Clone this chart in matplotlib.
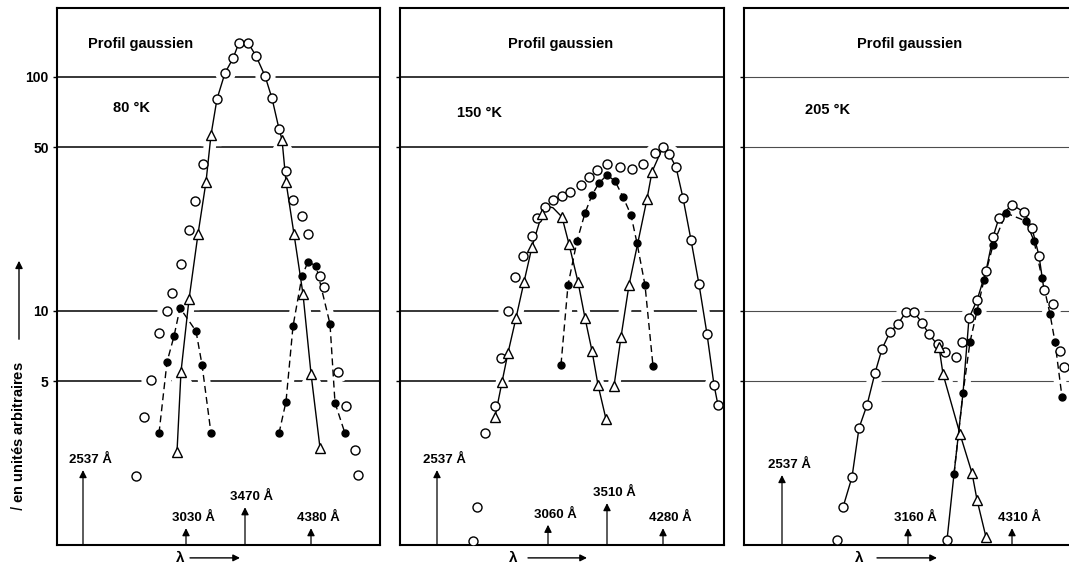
import matplotlib
matplotlib.use("Agg")
import matplotlib.pyplot as plt
from matplotlib.ticker import NullFormatter, NullLocator

FONT = ["Liberation Sans Narrow", "Liberation Sans", "DejaVu Sans"]
plt.rcParams["font.family"] = FONT

# x : position along lambda (arbitrary units, 0 = left frame of each panel)
# y : intensity I (arbitrary units, log scale)

# --- panel 1 : 80 K ---
P1_LINE_X = [120, 124, 132, 141, 149, 154, 160, 168, 176, 182, 191, 199, 208, 215, 222, 225, 229, 237, 246, 254, 263]
P1_LINE_Y = [2.5, 5.5, 11.2, 21.3, 35.6, 56.5, 80.5, 104, 120, 140, 140, 123, 101, 81, 60, 54, 35.6, 21.3, 11.8, 5.4, 2.6]
P1_TRI_X = [120, 124, 132, 141, 149, 154, 225, 229, 237, 246, 254, 263]
P1_TRI_Y = [2.5, 5.5, 11.2, 21.3, 35.6, 56.5, 54, 35.6, 21.3, 11.8, 5.4, 2.6]
P1_OPEN_X = [79, 87, 94, 102, 110, 115, 124, 132, 138, 146, 160, 168, 176, 182, 191, 199, 208,
             215, 222, 229, 236, 245, 251, 263, 267, 281, 289, 298, 301]
P1_OPEN_Y = [1.97, 3.52, 5.07, 8.05, 10, 11.9, 15.9, 22.2, 29.5, 42.5, 80.5, 104, 120, 140, 140, 123, 101,
             81, 60, 39.7, 29.8, 25.5, 21.3, 14.1, 12.7, 5.5, 3.93, 2.55, 2.0]
P1_FILL_A_X = [102, 110, 117, 123, 139, 145, 154]
P1_FILL_A_Y = [3.0, 6.05, 7.8, 10.3, 8.2, 5.9, 3.0]
P1_FILL_B_X = [222, 229, 236, 245, 251, 259, 273, 278, 288]
P1_FILL_B_Y = [3.0, 4.1, 8.6, 14.1, 16.2, 15.6, 8.8, 4.05, 3.0]

# --- panel 2 : 150 K ---
P2_LINE_A_X = [95, 102, 108, 116, 124, 132, 142, 147, 153, 162, 169, 178, 185, 192, 198, 206]
P2_LINE_A_Y = [3.52, 4.97, 6.62, 9.33, 13.3, 18.8, 26.0, 28.0, 27.6, 25.2, 19.3, 13.3, 9.33, 6.75, 4.83, 3.45]
P2_LINE_B_X = [214, 221, 229, 247, 252, 263, 269, 276, 283, 291, 299, 307, 314, 318]
P2_LINE_B_Y = [4.78, 7.74, 12.9, 30.1, 39.3, 50.2, 46.9, 41.2, 30.4, 20.1, 13.0, 7.97, 4.83, 3.96]
P2_TRI_X = [95, 102, 108, 116, 124, 132, 142, 162, 169, 178, 185, 192, 198, 206,
            214, 221, 229, 247, 252]
P2_TRI_Y = [3.52, 4.97, 6.62, 9.33, 13.3, 18.8, 26.0, 25.2, 19.3, 13.3, 9.33, 6.75, 4.83, 3.45,
            4.78, 7.74, 12.9, 30.1, 39.3]
P2_OPEN_X = [73, 77, 85, 95, 101, 108, 115, 123, 132, 137, 145, 153, 162, 170, 181, 189, 197, 207,
             220, 232, 243, 255, 263, 269, 276, 283, 291, 299, 307, 314, 318]
P2_OPEN_Y = [1.04, 1.45, 3.0, 3.93, 6.3, 10, 14.0, 17.2, 20.9, 25.0, 27.8, 29.8, 31.0, 32.3, 34.5, 37.4, 40.0, 42.5,
             41.2, 40.4, 42.5, 47.3, 50.2, 46.9, 41.2, 30.4, 20.1, 13.0, 7.97, 4.83, 3.96]
P2_FILL_X = [161, 168, 177, 185, 192, 199, 207, 215, 223, 231, 237, 245, 253]
P2_FILL_Y = [5.9, 12.9, 19.9, 26.2, 31.3, 35.2, 38.1, 35.9, 30.7, 25.7, 19.5, 12.9, 5.82]

# --- panel 3 : 205 K ---
P3_LINE_A_X = [99, 108, 115, 123, 131, 138, 146, 154, 162, 170, 178, 185, 195, 199, 216, 228, 233, 242]
P3_LINE_A_Y = [1.45, 1.95, 3.16, 3.96, 5.43, 6.88, 8.13, 8.8, 9.9, 9.9, 8.89, 7.97, 7.02, 5.38, 2.98, 2.03, 1.56, 1.08]
P3_LINE_B_X = [203, 210, 219, 225, 233, 242, 249, 255, 268, 280, 288, 295, 300]
P3_LINE_B_Y = [1.05, 2.01, 4.46, 9.33, 11.1, 14.8, 20.7, 25.0, 28.4, 26.5, 22.6, 17.2, 12.3]
P3_TRI_X = [195, 199, 216, 228, 233, 242]
P3_TRI_Y = [7.02, 5.38, 2.98, 2.03, 1.56, 1.08]
P3_OPEN_X = [93, 99, 108, 115, 123, 131, 138, 146, 154, 162, 170, 178, 185, 194, 201, 203, 212,
             218, 225, 233, 242, 249, 255, 268, 280, 288, 295, 300, 309, 316, 320]
P3_OPEN_Y = [1.05, 1.45, 1.95, 3.16, 3.96, 5.43, 6.88, 8.13, 8.8, 9.9, 9.9, 8.89, 7.97, 7.23, 6.68, 1.05, 6.36,
             7.37, 9.33, 11.1, 14.8, 20.7, 25.0, 28.4, 26.5, 22.6, 17.2, 12.3, 10.7, 6.75, 5.76]
P3_FILL_X = [210, 219, 226, 233, 240, 249, 262, 282, 290, 298, 306, 311, 318]
P3_FILL_Y = [2.01, 4.46, 7.37, 10, 13.6, 19.1, 26.2, 24.2, 19.9, 13.8, 9.71, 7.37, 4.29]

# excitation / emission wavelengths marked by arrows
P1_ARROW_LABELS = ["2537", "3030", "3470", "4380"]
P1_ARROW_X = [26, 129, 188, 254]
P1_ARROW_TOP = [2.09, 1.18, 1.45, 1.18]
P2_ARROW_LABELS = ["2537", "3060", "3510", "4280"]
P2_ARROW_X = [37, 148, 207, 263]
P2_ARROW_TOP = [2.09, 1.22, 1.51, 1.18]
P3_ARROW_LABELS = ["2537", "3160", "4310"]
P3_ARROW_X = [38, 164, 268]
P3_ARROW_TOP = [1.99, 1.18, 1.18]

TEMPERATURES = ["80 °K", "150 °K", "205 °K"]
LEVELS = [100, 50, 10, 5]

W, H = 1069, 569


def frac_box(left, right, top=8, bottom=545):
    return [left / W, 1 - bottom / H, (right - left) / W, (bottom - top) / H]


def halo_line(ax, x, y, ls="-"):
    ax.plot(x, y, color="white", lw=9, solid_capstyle="round", zorder=2)
    ax.plot(x, y, color="black", lw=1.0, ls=ls, zorder=3)


def markers(ax, x, y, marker, filled=False, size=6.5):
    ax.plot(x, y, ls="none", marker=marker, ms=size + 7, color="white", zorder=2)
    ax.plot(x, y, ls="none", marker=marker, ms=size, mec="black", mew=1.0,
            mfc="black" if filled else "white", zorder=4)


def setup(ax, width, labels, faint=False):
    ax.set_yscale("log")
    ax.set_ylim(1, 197)
    ax.set_xlim(0, width)
    ax.xaxis.set_major_locator(NullLocator())
    ax.yaxis.set_minor_locator(NullLocator())
    ax.yaxis.set_minor_formatter(NullFormatter())
    ax.set_yticks(LEVELS)
    if labels:
        ax.set_yticklabels([str(v) for v in LEVELS], fontsize=10, fontweight="bold")
    else:
        ax.set_yticklabels([])
    ax.tick_params(axis="y", length=3, width=1, pad=3)
    for s in ax.spines.values():
        s.set_linewidth(1.5)
    for v in LEVELS:
        ax.axhline(v, color="black" if not faint else "0.3", lw=1.1 if not faint else 0.8, zorder=1)


def arrows(ax, xs, tops, labels):
    for x, top, lab in zip(xs, tops, labels):
        ax.annotate("", xy=(x, top), xytext=(x, 1.0),
                    arrowprops=dict(arrowstyle="-|>", lw=0.9, color="black",
                                    mutation_scale=11, shrinkA=0, shrinkB=0), zorder=3)
        ax.annotate(f"{lab} Å", xy=(x, top), xytext=(5, 3), textcoords="offset points",
                    ha="center", va="bottom", fontsize=9.5, fontweight="bold")


def texts(ax, temp, px_profil, px_temp, temp_y):
    ax.text(px_profil, 0.933, "Profil gaussien", transform=ax.transAxes, ha="center", va="center",
            fontsize=10.5, fontweight="bold")
    ax.text(px_temp, temp_y, temp, transform=ax.transAxes, ha="center", va="center",
            fontsize=10.5, fontweight="bold")


def lam(ax, x_lam, x0, x1):
    ax.annotate("λ", xy=(x_lam, -0.024), xycoords=("data", "axes fraction"), ha="center",
                va="center", fontsize=11, fontweight="bold", annotation_clip=False)
    ax.annotate("", xy=(x1, -0.024), xytext=(x0, -0.024), xycoords=("data", "axes fraction"),
                arrowprops=dict(arrowstyle="-|>", lw=1.0, color="black", mutation_scale=10,
                                shrinkA=0, shrinkB=0), annotation_clip=False)


fig = plt.figure(figsize=(W / 100, H / 100), dpi=100)
ax1 = fig.add_axes(frac_box(57, 380))
ax2 = fig.add_axes(frac_box(400, 724))
ax3 = fig.add_axes(frac_box(744, 1069))

# panel 1
setup(ax1, 323, True)
halo_line(ax1, P1_LINE_X, P1_LINE_Y)
halo_line(ax1, P1_FILL_A_X, P1_FILL_A_Y, ls=(0, (5, 3)))
halo_line(ax1, P1_FILL_B_X, P1_FILL_B_Y, ls=(0, (5, 3)))
markers(ax1, P1_OPEN_X, P1_OPEN_Y, "o")
markers(ax1, P1_TRI_X, P1_TRI_Y, "^", size=7)
markers(ax1, P1_FILL_A_X, P1_FILL_A_Y, "o", filled=True, size=5)
markers(ax1, P1_FILL_B_X, P1_FILL_B_Y, "o", filled=True, size=5)
arrows(ax1, P1_ARROW_X, P1_ARROW_TOP, P1_ARROW_LABELS)
texts(ax1, TEMPERATURES[0], 0.26, 0.232, 0.814)
lam(ax1, 123, 133, 183)

# panel 2
setup(ax2, 324, False)
halo_line(ax2, P2_LINE_A_X, P2_LINE_A_Y)
halo_line(ax2, P2_LINE_B_X, P2_LINE_B_Y)
halo_line(ax2, P2_FILL_X, P2_FILL_Y, ls=(0, (5, 3)))
markers(ax2, P2_OPEN_X, P2_OPEN_Y, "o")
markers(ax2, P2_TRI_X, P2_TRI_Y, "^", size=7)
markers(ax2, P2_FILL_X, P2_FILL_Y, "o", filled=True, size=5)
arrows(ax2, P2_ARROW_X, P2_ARROW_TOP, P2_ARROW_LABELS)
texts(ax2, TEMPERATURES[1], 0.497, 0.244, 0.804)
lam(ax2, 113, 128, 187)

# panel 3 (cut on the right in the source)
setup(ax3, 325, False, faint=True)
ax3.spines["right"].set_visible(False)
halo_line(ax3, P3_LINE_A_X, P3_LINE_A_Y)
halo_line(ax3, P3_LINE_B_X, P3_LINE_B_Y)
halo_line(ax3, P3_FILL_X, P3_FILL_Y, ls=(0, (5, 3)))
markers(ax3, P3_OPEN_X, P3_OPEN_Y, "o")
markers(ax3, P3_TRI_X, P3_TRI_Y, "^", size=7)
markers(ax3, P3_FILL_X, P3_FILL_Y, "o", filled=True, size=5)
arrows(ax3, P3_ARROW_X, P3_ARROW_TOP, P3_ARROW_LABELS)
texts(ax3, TEMPERATURES[2], 0.508, 0.258, 0.81)
lam(ax3, 115, 133, 193)

# y label with its arrow
fig.text(18 / W, 1 - 436 / H, r"$I$ en unités arbitraires", rotation=90, ha="center", va="center",
         fontsize=10.5, fontweight="bold")
fig.add_artist(matplotlib.patches.FancyArrowPatch((19 / W, 1 - 342 / H), (19 / W, 1 - 258 / H),
                                                  transform=fig.transFigure, arrowstyle="-|>",
                                                  mutation_scale=11, lw=1.0, color="black"))

fig.savefig("out.png", dpi=100)
